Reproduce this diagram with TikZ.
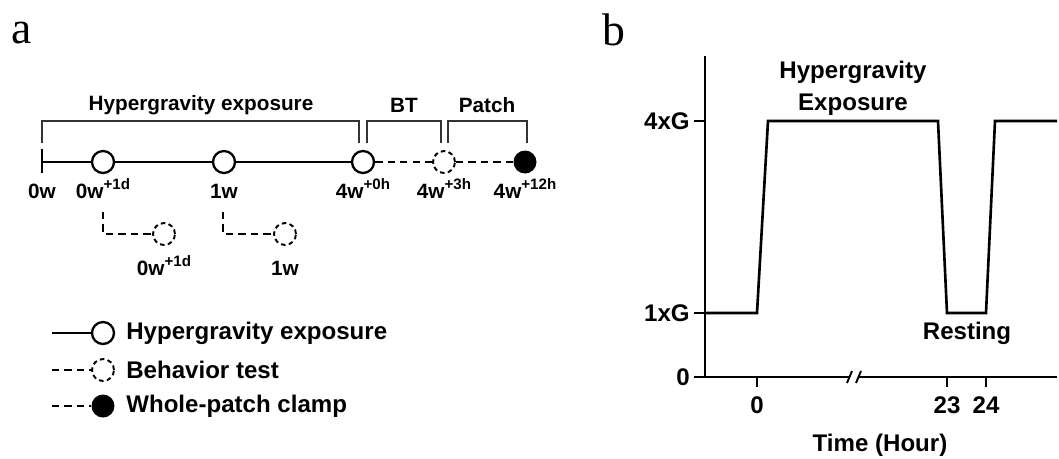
\documentclass[tikz,border=0pt]{standalone}
\usepackage{fontspec}
\setmainfont{Liberation Sans}
\newfontfamily\panelfont{Liberation Serif}
\usetikzlibrary{positioning}

\newcommand{\supx}[1]{\raisebox{0.42em}{\fontsize{8.6}{9}\selectfont #1}}

\begin{document}
\begin{tikzpicture}[
    x=0.02cm, y=-0.02cm,
    lbl/.style={font=\fontsize{11.8}{13}\selectfont\bfseries, inner sep=0pt},
    big/.style={font=\fontsize{13.7}{16}\selectfont\bfseries, inner sep=0pt},
    panel/.style={font=\fontsize{26}{30}\selectfont\panelfont, inner sep=0pt},
    hg/.style={circle, draw=black, line width=1.3pt, fill=white, minimum size=0.44cm, inner sep=0pt},
    bt/.style={hg, dash pattern=on 2.6pt off 1.9pt, line width=1.1pt},
    pc/.style={circle, fill=black, minimum size=0.46cm, inner sep=0pt},
    sline/.style={line width=1.2pt},
    dline/.style={line width=1.1pt, dash pattern=on 4.2pt off 2.9pt},
    brk/.style={line width=0.7pt, draw=black!80},
    ax/.style={line width=1.5pt}
]
\useasboundingbox (0,0) rectangle (1059,458);

% panel labels
\node[panel] (pa) at (22,33) {a};
\node[panel] (pb) at (614,30) {b};

%% ---- panel a: timeline ----
\coordinate (t0) at (42,162);
\node[hg] (c1) at (103,162) {};
\node[hg] (c2) at (224,162) {};
\node[hg] (c3) at (363,162) {};
\node[bt] (c4) at (444,162) {};
\node[pc] (c5) at (525,162) {};

\draw[sline] (42,149) -- (42,173);
\draw[sline] (t0) -- (c1) -- (c2) -- (c3);
\draw[dline] (c3) -- (c4) -- (c5);

% brackets
\draw[brk] (42,143) |- (359,121) -- (359,143);
\draw[brk] (367,143) |- (441,121) -- (441,143);
\draw[brk] (448,143) |- (527,121) -- (527,143);
\node[lbl] (hgx) at (201,105) {Hypergravity exposure};
\node[lbl] (btx) at (404,105) {BT};
\node[lbl] (ptx) at (487,105) {Patch};

% time point labels
\node[lbl, anchor=base] (l0) at (42,198) {0w};
\node[lbl, anchor=base] (l1) at (103,198) {0w\supx{+1d}};
\node[lbl, anchor=base] (l2) at (224,198) {1w};
\node[lbl, anchor=base] (l3) at (363,198) {4w\supx{+0h}};
\node[lbl, anchor=base] (l4) at (444,198) {4w\supx{+3h}};
\node[lbl, anchor=base] (l5) at (525,198) {4w\supx{+12h}};

% behaviour test branches
\coordinate (k1) at (103,212);
\coordinate (k2) at (223,212);
\node[bt] (b1) at (164,234) {};
\node[bt] (b2) at (285,234) {};
\draw[dline] (k1) |- (b1);
\draw[dline] (k2) |- (b2);
\node[lbl, anchor=base] (m1) at (164,275) {0w\supx{+1d}};
\node[lbl, anchor=base] (m2) at (285,275) {1w};

% legend
\coordinate (g1) at (52,333);
\coordinate (g2) at (52,370);
\coordinate (g3) at (52,406);
\node[hg] (e1) at (103,333) {};
\node[bt] (e2) at (103,370) {};
\node[pc] (e3) at (103,406) {};
\draw[sline] (g1) -- (e1);
\draw[dline] (g2) -- (e2);
\draw[dline] (g3) -- (e3);
\node[big, anchor=west] (x1) at (126,333) {Hypergravity exposure};
\node[big, anchor=west] (x2) at (126,370) {Behavior test};
\node[big, anchor=west] (x3) at (126,406) {Whole-patch clamp};

%% ---- panel b: protocol ----
\draw[ax] (705,56) -- (705,377);
\draw[ax] (694,377) -- (850,377);
\draw[ax] (859,377) -- (1057,377);
\draw[line width=1.1pt] (847,383) -- (852,371);
\draw[line width=1.1pt] (856,383) -- (861,371);
\draw[ax] (694,121) -- (705,121);
\draw[ax] (694,313) -- (705,313);
\foreach \xx in {757,947,986} \draw[ax] (\xx,377) -- (\xx,387);

\node[big, anchor=east] (y4) at (690,121) {4xG};
\node[big, anchor=east] (y1) at (690,313) {1xG};
\node[big, anchor=east] (y0) at (690,377) {0};
\node[big] (x0) at (757,405) {0};
\node[big] (x23) at (947,405) {23};
\node[big] (x24) at (986,405) {24};
\node[big] (xt) at (880,445) {Time (Hour)};

\draw[ax, line join=miter] (705,313) -- (757,313) -- (768,121) -- (938,121)
    -- (947,313) -- (986,313) -- (995,121) -- (1057,121);

\node[big, align=center] (hgb) at (853,88) {Hypergravity\\[2pt]Exposure};
\node[big] (rst) at (967,333) {Resting};
\end{tikzpicture}
\end{document}
